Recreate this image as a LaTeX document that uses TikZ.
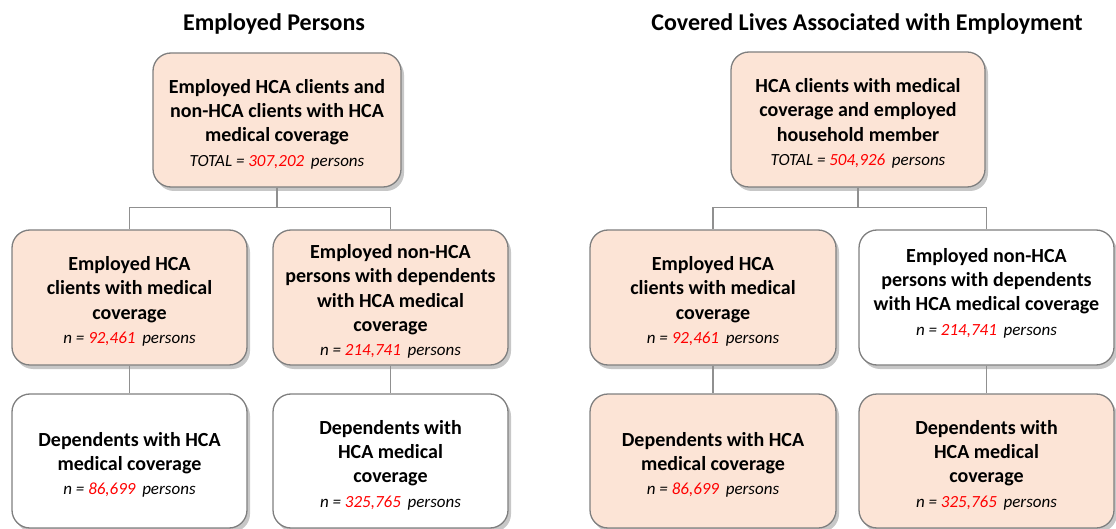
\documentclass[tikz,border=0pt]{standalone}
\usepackage{fontspec}
\setmainfont{Carlito}
\usetikzlibrary{shadows}
\definecolor{peach}{HTML}{FCE4D6}
\definecolor{edgegray}{HTML}{7F7F7F}
\definecolor{conngray}{HTML}{909090}
\definecolor{numred}{HTML}{FF0000}
\newcommand\cntline[2]{{\fontsize{17}{23.5}\selectfont\mdseries\itshape #1 = \textcolor{numred}{#2}\,\ persons}}
\newcommand\lowr{\rule{0pt}{22pt}}
\tikzset{
  box/.style={draw=edgegray, line width=1.3pt, rounded corners=18pt, align=center,
    font=\fontsize{20}{24.3}\selectfont\bfseries, inner sep=0pt,
    drop shadow={shadow xshift=3pt, shadow yshift=-4pt, opacity=0.22, fill=black}},
  peachbox/.style={box, fill=peach},
  whitebox/.style={box, fill=white},
  raisetext/.style={execute at end node={\rule[-11.5pt]{0pt}{1pt}}},
  conn/.style={draw=conngray, line width=1.4pt},
  title/.style={font=\fontsize{24}{26}\selectfont\bfseries, inner sep=0pt}
}
\begin{document}
\begin{tikzpicture}[x=1pt, y=-1pt]
\useasboundingbox (0,0) rectangle (1116,529);
% titles
\node[title] (t1) at (274,24) {Employed Persons};
\node[title] (t2) at (867,24) {Covered Lives Associated with Employment};
% left tree
\node[peachbox, minimum width=248pt, minimum height=134pt] (L0) at (277,120)
  {\lowr Employed HCA clients and\\ non-HCA clients with HCA\\ medical coverage\\ \cntline{TOTAL}{307,202}};
\node[peachbox, minimum width=235pt, minimum height=135pt] (L1) at (129.5,297.5)
  {\lowr Employed HCA\\ clients with medical\\ coverage\\ \cntline{n}{92,461}};
\node[peachbox, minimum width=235pt, minimum height=135pt] (L2) at (390.5,297.5)
  {\lowr Employed non-HCA\\ persons with dependents\\ with HCA medical\\ coverage\\ \cntline{n}{214,741}};
\node[whitebox, minimum width=235pt, minimum height=134pt] (L3) at (129.5,461)
  {\lowr Dependents with HCA\\ medical coverage\\ \cntline{n}{86,699}};
\node[whitebox, minimum width=235pt, minimum height=134pt] (L4) at (390.5,461)
  {\lowr Dependents with\\ HCA medical\\ coverage\\ \cntline{n}{325,765}};
% right tree
\node[peachbox, minimum width=254pt, minimum height=135pt] (R0) at (858,119.5)
  {\lowr HCA clients with medical\\ coverage and employed\\ household member\\ \cntline{TOTAL}{504,926}};
\node[peachbox, minimum width=246pt, minimum height=135pt] (R1) at (713,297.5)
  {\lowr Employed HCA\\ clients with medical\\ coverage\\ \cntline{n}{92,461}};
\node[whitebox, raisetext, minimum width=255pt, minimum height=135pt] (R2) at (986.5,297.5)
  {Employed non-HCA\\ persons with dependents\\ with HCA medical coverage\\ \cntline{n}{214,741}};
\node[peachbox, minimum width=246pt, minimum height=134pt] (R3) at (713,461)
  {\lowr Dependents with HCA\\ medical coverage\\ \cntline{n}{86,699}};
\node[peachbox, minimum width=255pt, minimum height=134pt] (R4) at (986.5,461)
  {\lowr Dependents with\\ HCA medical\\ coverage\\ \cntline{n}{325,765}};
% connectors
\draw[conn] (L0.south) -- ++(0,20) coordinate (lj);
\draw[conn] (L1.north) |- (lj) -| (L2.north);
\draw[conn] (L1.south) -- (L3.north);
\draw[conn] (L2.south) -- (L4.north);
\draw[conn] (R0.south) -- ++(0,20) coordinate (rj);
\draw[conn] (R1.north) |- (rj) -| (R2.north);
\draw[conn] (R1.south) -- (R3.north);
\draw[conn] (R2.south) -- (R4.north);
\end{tikzpicture}
\end{document}
